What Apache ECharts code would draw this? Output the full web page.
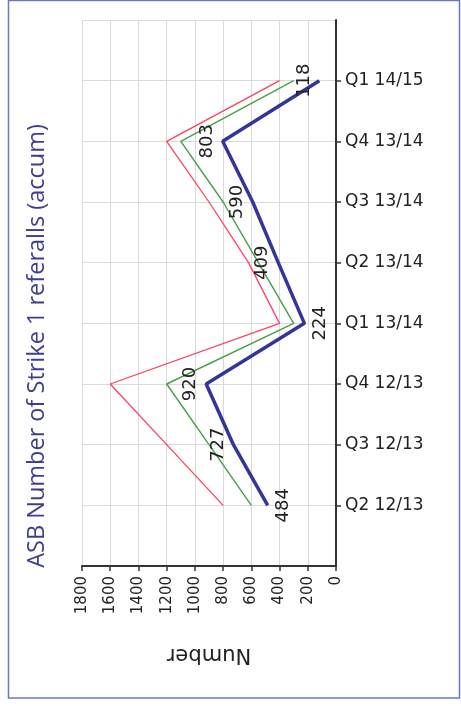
<!DOCTYPE html>
<html>
<head>
<meta charset="utf-8">
<title>ASB Number of Strike 1 referalls (accum)</title>
<script src="https://cdn.jsdelivr.net/npm/echarts@6/dist/echarts.min.js"></script>
<style>
  html, body { margin: 0; padding: 0; background: #ffffff; }
  #chart { width: 461px; height: 706px; }
</style>
</head>
<body>
<div id="chart"></div>
<script>
// Quarters, oldest first (drawn bottom to top)
const quarters = ['Q2 12/13', 'Q3 12/13', 'Q4 12/13', 'Q1 13/14', 'Q2 13/14', 'Q3 13/14', 'Q4 13/14', 'Q1 14/15'];

// Accumulated Strike 1 referrals per quarter
const actual = [484, 727, 920, 224, 409, 590, 803, 118];
const upperLine = [800, 1200, 1600, 400, 620, 900, 1200, 400];
const lowerLine = [600, 900, 1200, 300, 550, 800, 1100, 300];

// Value axis ticks
const valueTicks = [0, 200, 400, 600, 800, 1000, 1200, 1400, 1600, 1800];

// Which side of the line each value label sits on
const labelSide = ['right', 'left', 'left', 'right', 'left', 'left', 'left', 'left'];

// One empty slot above and below the quarters leaves room at both ends of the axis
const pad = arr => [null, ...arr, null];
const categories = ['', ...quarters, ''];

const chart = echarts.init(document.getElementById('chart'), null, { renderer: 'canvas' });

const actualData = pad(actual).map((v, i) => {
  if (v === null) return null;
  const side = labelSide[i - 1];
  return {
    value: v,
    label: {
      position: side,
      align: 'center',
      verticalAlign: side === 'left' ? 'bottom' : 'top'
    }
  };
});

const option = {
  backgroundColor: '#ffffff',
  animation: false,
  grid: { left: 82, right: 125, top: 20, bottom: 140, containLabel: false },
  xAxis: {
    type: 'value',
    inverse: true,
    position: 'bottom',
    min: valueTicks[0],
    max: valueTicks[valueTicks.length - 1],
    interval: valueTicks[1] - valueTicks[0],
    name: 'Number',
    nameLocation: 'middle',
    nameRotate: 180,
    nameGap: 78,
    nameTextStyle: { fontFamily: 'DejaVu Sans', fontSize: 21, color: '#222222' },
    axisLine: { show: true, lineStyle: { color: '#333333', width: 2 } },
    axisTick: { show: true, length: 5, lineStyle: { color: '#333333', width: 1.5 } },
    axisLabel: {
      rotate: 90,
      margin: 10,
      fontFamily: 'DejaVu Sans',
      fontSize: 15,
      color: '#222222',
      formatter: (v) => String(v)
    },
    splitLine: { show: true, lineStyle: { color: '#dadada', width: 1 } }
  },
  yAxis: {
    type: 'category',
    position: 'right',
    boundaryGap: false,
    data: categories,
    axisLine: { show: true, lineStyle: { color: '#333333', width: 2 } },
    axisTick: {
      show: true,
      length: 5,
      interval: (idx) => idx > 0 && idx < categories.length - 1,
      lineStyle: { color: '#333333', width: 1.5 }
    },
    axisLabel: {
      margin: 9,
      fontFamily: 'DejaVu Sans',
      fontSize: 17,
      color: '#222222'
    },
    splitLine: { show: true, lineStyle: { color: '#dadada', width: 1 } }
  },
  graphic: [
    {
      type: 'rect',
      shape: { x: 8.5, y: 0.5, width: 451, height: 697.5 },
      style: { fill: null, stroke: '#6a78c8', lineWidth: 1.5 },
      silent: true
    },
    {
      type: 'text',
      x: 37,
      y: 346,
      rotation: Math.PI / 2,
      style: {
        text: 'ASB Number of Strike 1 referalls (accum)',
        fontFamily: 'Open Sans',
        fontSize: 23.5,
        fill: '#3d3f8e',
        align: 'center',
        verticalAlign: 'middle'
      },
      silent: true
    }
  ],
  series: [
    {
      name: 'upper',
      type: 'line',
      data: pad(upperLine),
      showSymbol: false,
      symbol: 'none',
      lineStyle: { color: '#ff4060', width: 1.3 },
      z: 2
    },
    {
      name: 'lower',
      type: 'line',
      data: pad(lowerLine),
      showSymbol: false,
      symbol: 'none',
      lineStyle: { color: '#45a045', width: 1.4 },
      z: 3
    },
    {
      name: 'actual',
      type: 'line',
      data: actualData,
      showSymbol: true,
      symbol: 'circle',
      symbolSize: 1,
      itemStyle: { color: 'rgba(0,0,0,0)' },
      lineStyle: { color: '#33359a', width: 3.5 },
      label: {
        show: true,
        rotate: 90,
        distance: 6,
        fontFamily: 'DejaVu Sans',
        fontSize: 18,
        color: '#222222'
      },
      z: 4
    }
  ]
};

chart.setOption(option);
</script>
</body>
</html>
